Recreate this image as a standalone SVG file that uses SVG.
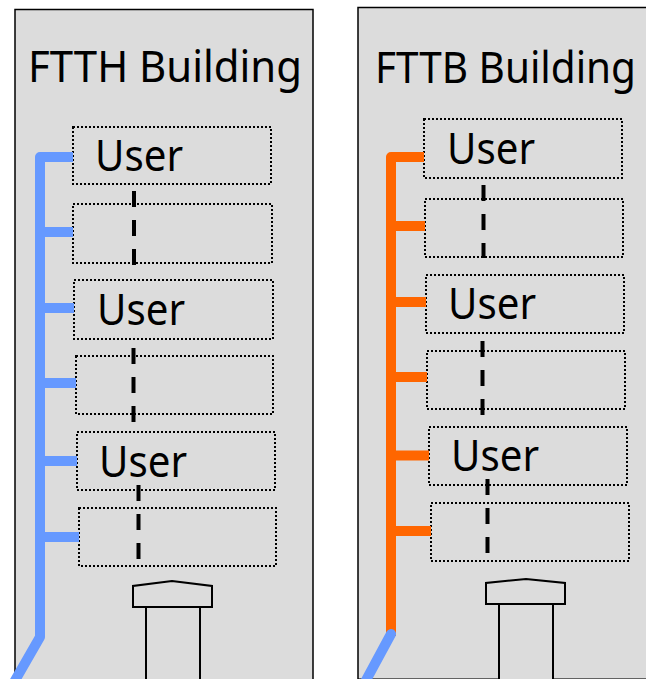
<svg xmlns="http://www.w3.org/2000/svg" width="646" height="679" viewBox="0 0 646 679">
  <style>
    .bldg { fill: #dcdcdc; stroke: #000; stroke-width: 1.5; }
    .box { fill: none; stroke: #000; stroke-width: 2; stroke-dasharray: 2 2; }
    .title { font-family: "Noto Sans", "Open Sans", "DejaVu Sans", sans-serif; font-size: 44px; fill: #000; }
    .user { font-family: "Noto Sans", "Open Sans", "DejaVu Sans", sans-serif; font-size: 43px; fill: #000; }
    .dash { fill: none; stroke: #000; stroke-width: 4; stroke-dasharray: 16 13; }
    .blue { fill: none; stroke: #6699ff; stroke-width: 10; stroke-linejoin: round; }
    .orange { fill: none; stroke: #ff6600; stroke-width: 10; stroke-linejoin: round; }
    .gate { fill: #dcdcdc; stroke: #000; stroke-width: 2; }
  </style>

  <rect width="646" height="679" fill="#fff"/>

  <g id="ftth-building">
    <rect class="bldg" x="15" y="9.5" width="298" height="700"/>
    <text class="title" x="28" y="82" textLength="274" lengthAdjust="spacingAndGlyphs">FTTH Building</text>
  </g>
  <g id="fttb-building">
    <rect class="bldg" x="358" y="7.5" width="320" height="671.7"/>
    <text class="title" x="375" y="83" font-size="43" textLength="261" lengthAdjust="spacingAndGlyphs">FTTB Building</text>
  </g>

  <g id="ftth-floor1"><rect class="box" x="73" y="127" width="198" height="57"/><text class="user" x="95" y="171" textLength="88" lengthAdjust="spacingAndGlyphs">User</text></g>
  <g id="ftth-floor2"><rect class="box" x="73" y="204" width="199" height="59"/></g>
  <g id="ftth-floor3"><rect class="box" x="74" y="280" width="199" height="59"/><text class="user" x="97" y="325" textLength="88" lengthAdjust="spacingAndGlyphs">User</text></g>
  <g id="ftth-floor4"><rect class="box" x="76" y="356" width="197" height="58"/></g>
  <g id="ftth-floor5"><rect class="box" x="77" y="432" width="198" height="58"/><text class="user" x="99" y="477" textLength="88" lengthAdjust="spacingAndGlyphs">User</text></g>
  <g id="ftth-floor6"><rect class="box" x="79" y="508" width="197" height="58"/></g>

  <g id="fttb-floor1"><rect class="box" x="424" y="119" width="198" height="59"/><text class="user" x="447" y="164" textLength="88" lengthAdjust="spacingAndGlyphs">User</text></g>
  <g id="fttb-floor2"><rect class="box" x="425" y="199" width="198" height="58"/></g>
  <g id="fttb-floor3"><rect class="box" x="426" y="275" width="198" height="58"/><text class="user" x="448" y="319" textLength="88" lengthAdjust="spacingAndGlyphs">User</text></g>
  <g id="fttb-floor4"><rect class="box" x="427" y="351" width="198" height="58"/></g>
  <g id="fttb-floor5"><rect class="box" x="429" y="427" width="198" height="58"/><text class="user" x="451" y="471" textLength="88" lengthAdjust="spacingAndGlyphs">User</text></g>
  <g id="fttb-floor6"><rect class="box" x="431" y="503" width="198" height="58"/></g>

  <g id="ftth-gate">
    <rect class="gate" x="146" y="607" width="54" height="90"/>
    <polygon class="gate" points="133,607 133,586 172,581 212,586 212,607"/>
  </g>
  <g id="fttb-gate">
    <rect class="gate" x="499" y="604" width="54" height="90"/>
    <polygon class="gate" points="486,604 486,583 526,579 565,583 565,604"/>
  </g>

  <g id="connectors">
    <path class="dash" d="M134,191 V265 M133.5,348 V422 M138.5,485 V560"/>
    <path class="dash" d="M483.5,185 V258 M482.5,341 V415 M487.5,479 V553"/>

    <path class="blue" d="M73,157 H40 V637 L13,684"/>
    <path class="blue" d="M40,232 H73 M40,308 H74 M40,383 H76 M40,461 H77 M40,537 H79"/>

    <path class="orange" d="M424,157 H391 V636"/>
    <path class="orange" d="M391,226 H425 M391,302 H426 M391,377 H427 M391,455.5 H429 M391,531 H431"/>
    <path class="blue" stroke-linecap="round" d="M391,634 L364,684"/>
  </g>
</svg>
